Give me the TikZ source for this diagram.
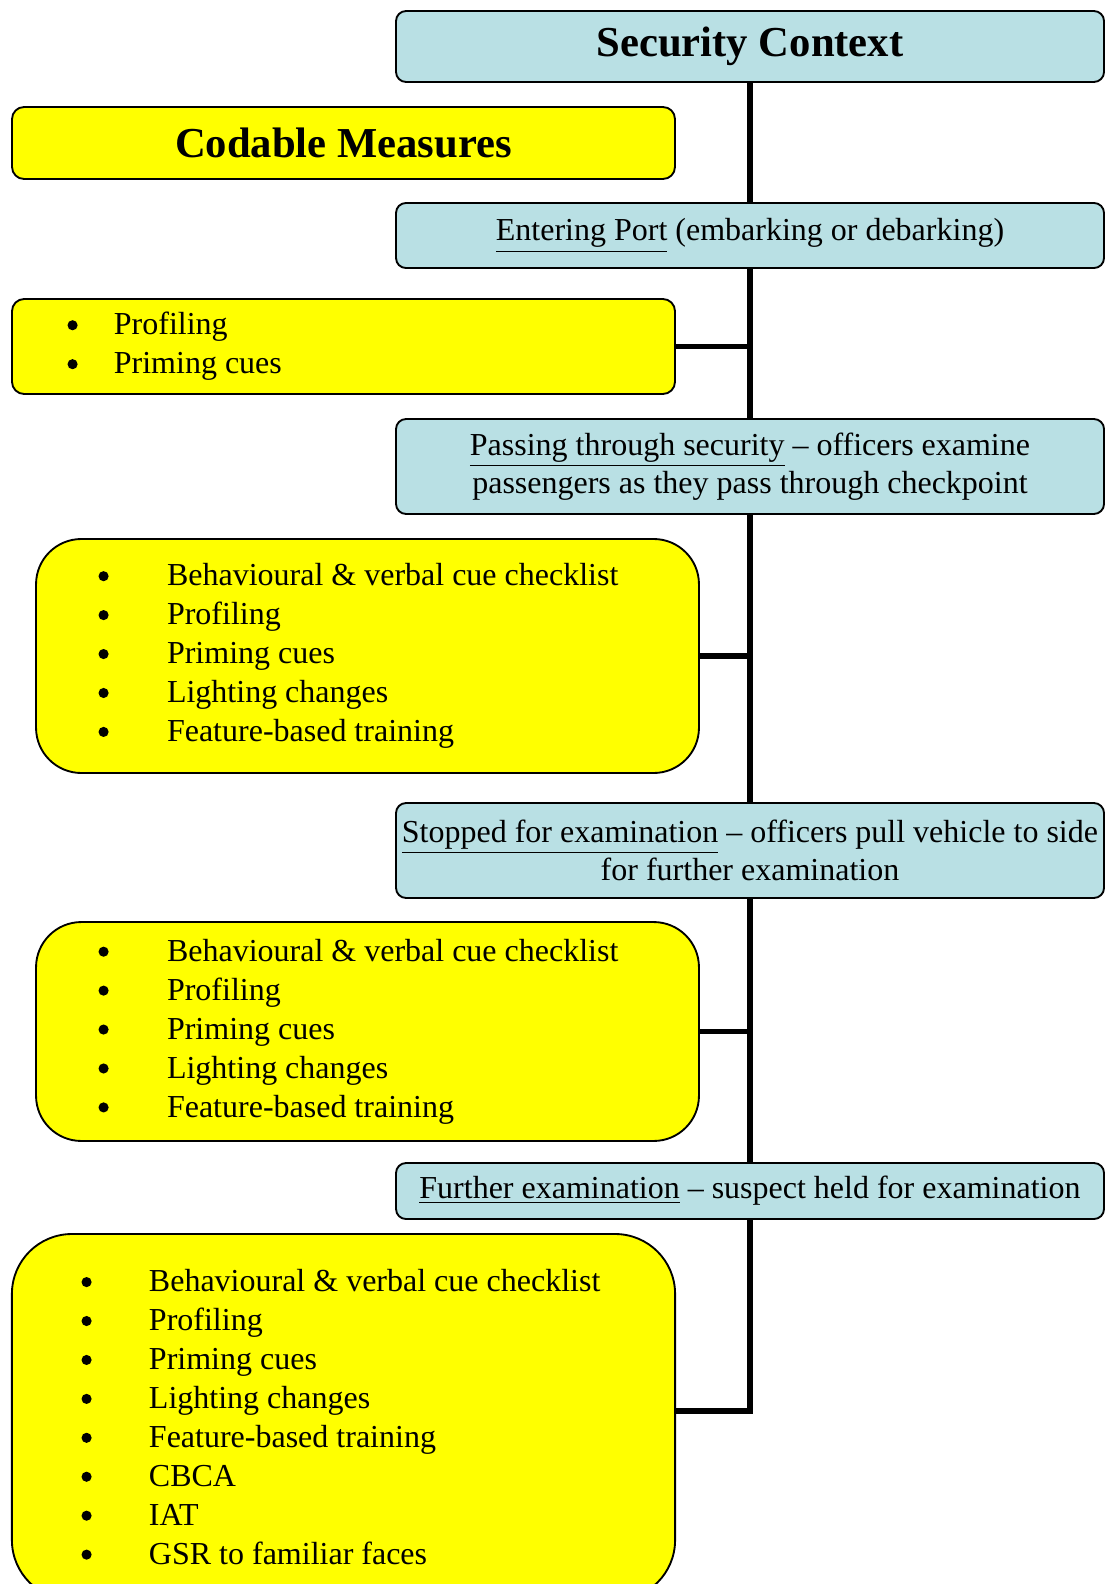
\documentclass[tikz,border=0pt]{standalone}
\usepackage{fontspec}
\setmainfont{Liberation Serif}
\usepackage{tikz}

\definecolor{ctxblue}{HTML}{B9E0E4}
\definecolor{measyellow}{HTML}{FFFF00}
\newlength\bulletgap
\newcommand{\bl}{\makebox[\bulletgap][l]{\tikz[baseline=-0.3em]\fill[black] (0,0) circle (1.9pt);}}

\begin{document}
\begin{tikzpicture}[
x=0.375pt,y=-0.375pt,
ctx/.style={draw,fill=ctxblue,line width=0.7pt,rounded corners=3.75pt,minimum width=265.5pt,inner xsep=1pt,align=center,font=\fontsize{12}{14.4}\selectfont},
meas/.style={draw,fill=measyellow,line width=0.7pt,rounded corners=4.5pt,minimum width=248.6pt,align=flush left,font=\fontsize{12}{14.6}\selectfont},
title/.style={font=\fontsize{16}{19}\selectfont\bfseries},
link/.style={line width=1.9pt}
]
\useasboundingbox (0,0) rectangle (1106,1584);

% security context (right column)
\node[ctx,title,minimum height=26.6pt] (sec) at (750,46.5) {Security Context};
\node[ctx,minimum height=24.4pt] (enter) at (750,235.5) {\underline{Entering Port} (embarking or debarking)};
\node[ctx,minimum height=35.6pt] (pass) at (750,466.5) {\underline{Passing through security} -- officers examine\\passengers as they pass through checkpoint};
\node[ctx,minimum height=35.6pt] (stop) at (750,850.5) {\underline{Stopped for examination} -- officers pull vehicle to side\\for further examination};
\node[ctx,minimum height=21pt] (further) at (750,1191) {\underline{Further examination} -- suspect held for examination};

% codable measures (left column)
\node[meas,title,align=center,minimum height=27pt] (codable) at (343.5,143) {Codable Measures};
\node[meas,minimum height=35.6pt,text width=207pt,inner xsep=20.8pt] (prof) at (343.5,346.5) {\setlength\bulletgap{17.4pt}%
\bl Profiling\\
\bl Priming cues};
\node[meas,rounded corners=17pt,minimum height=87.75pt,text width=201.75pt,inner xsep=23.4pt] (check) at (367.5,656) {\setlength\bulletgap{25.7pt}%
\bl Behavioural \& verbal cue checklist\\
\bl Profiling\\
\bl Priming cues\\
\bl Lighting changes\\
\bl Feature-based training};
\node[meas,rounded corners=17pt,minimum height=82.1pt,text width=201.75pt,inner xsep=23.4pt] (stopmeas) at (367.5,1031.5) {\setlength\bulletgap{25.7pt}%
\bl Behavioural \& verbal cue checklist\\
\bl Profiling\\
\bl Priming cues\\
\bl Lighting changes\\
\bl Feature-based training};
\node[meas,rounded corners=22.5pt,minimum height=137.25pt,text width=196.5pt,inner xsep=26.1pt] (furthermeas) at (343.5,1417) {\setlength\bulletgap{25.3pt}%
\bl Behavioural \& verbal cue checklist\\
\bl Profiling\\
\bl Priming cues\\
\bl Lighting changes\\
\bl Feature-based training\\
\bl CBCA\\
\bl IAT\\
\bl GSR to familiar faces};

% spine and branches
\draw[link] (sec) -- (enter);
\draw[link] (enter) -- (pass);
\draw[link] (pass) -- (stop);
\draw[link] (stop) -- (further);
\draw[link] (prof.east) -- (prof.east -| sec.south);
\draw[link] (check.east) -- (check.east -| sec.south);
\draw[link] (stopmeas.east) -- (stopmeas.east -| sec.south);
\draw[link] (further.south) |- ([yshift=2.25pt]furthermeas.east);
\end{tikzpicture}
\end{document}
